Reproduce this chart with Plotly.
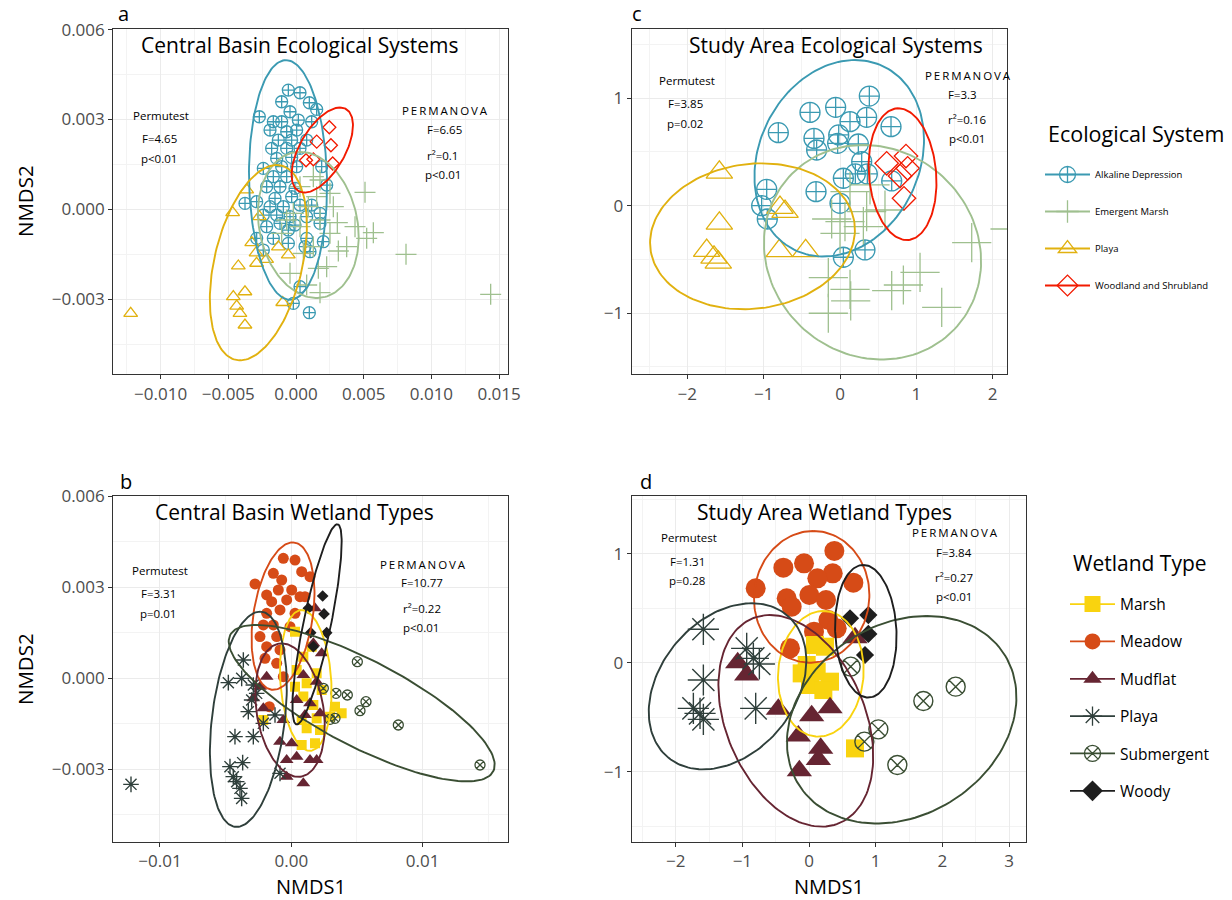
import numpy as np
import plotly.graph_objects as go

FONT = "Open Sans"
W, H = 1232, 900

# ---------------- colours ----------------
C_ALK, C_EM, C_PLA, C_WOO = "#3B9AB2", "#9FC08F", "#E1B10F", "#F21A00"
C_MARSH, C_MEAD, C_MUD, C_PLAYA, C_SUB, C_WOODY = "#F9D30F", "#D64B17", "#662532", "#2F3F3B", "#3A4E33", "#1E1E1E"

# ---------------- panel a: Central Basin Ecological Systems ----------------
a_alk_x = [-0.000566, 0.000295, -0.001059, 0.000985, 0.001526, -0.002708, -0.000443, -0.001674, -0.001059, 0.000172,
           0.001157, -0.001920, -0.000689, 0.000049, -0.001305, -0.000320, 0.000788, -0.001797, -0.000689, 0.000295,
           -0.001428, -0.000320, 0.001896, -0.001059, 0.000049, -0.002413, -0.001674, -0.000689, 0.002265, -0.002167,
           -0.001182, -0.000074, -0.001551, -0.000320, -0.003767, -0.002905, -0.001920, -0.000936, 0.000295, 0.001157,
           0.001773, -0.002413, -0.001428, -0.000443, 0.000788, -0.002167, -0.001182, -0.000074, 0.001773, -0.002905,
           -0.001674, -0.000566, 0.000788, 0.002019, -0.002413, 0.000665, -0.000566, 0.001034, 0.000295, -0.000197,
           0.000985]
a_alk_y = [0.003981, 0.003892, 0.003591, 0.003558, 0.003336, 0.003091, 0.003258, 0.002924, 0.002924, 0.002980,
           0.002924, 0.002647, 0.002591, 0.002647, 0.002313, 0.002313, 0.002313, 0.002035, 0.002035, 0.002035,
           0.001701, 0.001734, 0.001423, 0.001423, 0.001423, 0.001367, 0.001089, 0.001089, 0.000811, 0.000755,
           0.000755, 0.000700, 0.000366, 0.000422, 0.000199, 0.000255, 0.000088, 0.000088, 0.000143, 0.000143,
           -0.000135, -0.000190, -0.000190, -0.000246, -0.000246, -0.000579, -0.000468, -0.000524, -0.000468, -0.000968,
           -0.000968, -0.000691, -0.000968, -0.001080, -0.001358, -0.001247, -0.001136, -0.001413, -0.002582, -0.003138,
           -0.003449]
a_em_x = [0.008125, 0.014378, 0.005096, 0.005712, 0.004358, 0.005220, 0.003053, 0.003742, 0.003127, 0.001773,
          0.001650, -0.000443, 0.000788, 0.002511, 0.001280, 0.000295, 0.000911, 0.001773, 0.002511, 0.000295,
          -0.000689, 0.001280, 0.000542, -0.000197, 0.001526, 0.002757, 0.001773, -0.001059, 0.002265]
a_em_y = [-0.001502, -0.002836, 0.000567, -0.000779, -0.000578, -0.000968, -0.000445, -0.001246, -0.001390, -0.002781,
          -0.001969, -0.002136, -0.002525, 0.000534, 0.001090, 0.000756, 0.000089, -0.000356, -0.000801, -0.000578,
          -0.000356, -0.001246, -0.001468, -0.000133, 0.000423, 0.000089, 0.000979, -0.000801, -0.001913]
a_pla_x = [-0.01221, -0.00364, -0.00468, -0.00271, -0.00327, -0.00295, -0.00217, -0.00291, -0.00426, -0.00130,
           -0.00057, -0.00377, -0.00463, -0.00438, -0.00414, -0.00377, -0.00098]
a_pla_y = [-0.00347, 0.00065, -0.00011, -0.00024, -0.00111, -0.00145, -0.00167, -0.00180, -0.00189, -0.00125,
           -0.00152, -0.00275, -0.00291, -0.00323, -0.00347, -0.00386, -0.00311]
a_woo_x = [0.00246, 0.00153, 0.00258, 0.00128, 0.00271, 0.00074]
a_woo_y = [0.00274, 0.00226, 0.00214, 0.00167, 0.00153, 0.00164]
# ellipse: centre x, centre y, top-point x, top-point y, horizontal half-width
a_ell_alk = [-0.00059, 0.00098, -0.00074, 0.00498, 0.00288]
a_ell_em = [0.00091, -0.00052, 0.00030, 0.00192, 0.00367]
a_ell_pla = [-0.00278, -0.00178, -0.00143, 0.00148, 0.00332]
a_ell_woo = [0.00194, 0.00198, 0.00325, 0.00340, 0.00185]

# ---------------- panel c: Study Area Ecological Systems ----------------
c_alk_x = [0.384, -0.057, -0.393, 0.349, 0.131, -0.808, 0.668, -0.341, -0.017, 0.240, -0.306, -0.031, 0.284, 0.358,
           0.044, 0.201, 0.677, -0.960, -0.314, -1.026, 0.000, -0.952, 0.327, 0.044]
c_alk_y = [1.020, 0.915, 0.868, 0.822, 0.782, 0.679, 0.735, 0.626, 0.658, 0.574, 0.518, 0.580, 0.410, 0.295,
           0.255, 0.295, 0.230, 0.152, 0.130, 0.000, 0.022, -0.124, -0.412, -0.480]
c_em_x = [2.227, 1.725, -0.153, 0.131, -0.153, 0.140, 0.677, 0.830, 1.048, 1.332, 0.131, 0.349, -0.109, 0.065,
          0.306, 0.589, 0.000, 0.393]
c_em_y = [-0.217, -0.344, -0.669, -0.778, -1.001, -0.886, -0.791, -0.738, -0.620, -0.946, 0.130, -0.055, -0.124,
          -0.148, -0.195, -0.040, -0.257, 0.193]
c_pla_x = [-1.580, -1.580, -1.746, -1.650, -1.594, -0.786, -0.720, -0.795, -0.450]
c_pla_y = [0.310, -0.164, -0.418, -0.481, -0.527, -0.018, -0.055, -0.421, -0.421]
c_woo_x = [0.611, 0.864, 0.886, 0.786, 0.838]
c_woo_y = [0.394, 0.462, 0.348, 0.276, 0.069]
c_ell_alk = [-0.01, 0.441, 0.196, 1.355, 1.091]
c_ell_em = [0.426, -0.433, 0.305, 0.565, 1.417]
c_ell_pla = [-1.146, -0.285, -1.026, 0.394, 1.336]
c_ell_woo = [0.819, 0.293, 0.764, 0.906, 0.441]

# ---------------- panel b: Central Basin Wetland Types ----------------
b_marsh_x = [0.000282, 0.001551, 0.000916, 0.000409, 0.001931, 0.001170, 0.000282, 0.002312, 0.000916, 0.001678,
             0.003327, 0.003834, 0.002946, 0.001931, 0.000789, 0.002185, 0.001170, 0.001805, 0.000789, -0.002129]
b_marsh_y = [0.001537, 0.001043, 0.000713, 0.000274, 0.000164, -0.000165, -0.000275, -0.000385, -0.000604, -0.000879,
             -0.000934, -0.001154, -0.001264, -0.001319, -0.001374, -0.001703, -0.001648, -0.002143, -0.002198, -0.001374]
b_mead_x = [0.000282, -0.000607, -0.002764, 0.000789, 0.001424, -0.001368, -0.000733, 0.000028, -0.000987, -0.001876,
            0.000662, -0.001495, -0.000353, 0.001043, -0.001876, -0.000861, 0.000282, -0.002129, -0.001368, -0.000099,
            -0.002383, -0.001114, -0.001876, -0.000861, -0.002002, -0.001114, -0.000607, -0.001673]
b_mead_y = [0.003899, 0.003954, 0.003110, 0.003516, 0.003351, 0.003461, 0.003241, 0.002911, 0.002911, 0.002747,
            0.002692, 0.002527, 0.002582, 0.002692, 0.002143, 0.002253, 0.002143, 0.001758, 0.001758, 0.001703,
            0.001374, 0.001374, 0.001044, 0.000934, 0.000659, 0.000494, 0.000054, -0.000934]
b_mud_x = [0.001805, 0.002312, 0.001678, 0.000916, 0.001931, -0.001876, -0.002383, -0.002891, -0.002129, 0.000409,
           0.001424, 0.001043, 0.002185, -0.000607, -0.000861, 0.000028, 0.000409, -0.000353, 0.001424, 0.001931,
           -0.000353, 0.000916]
b_mud_y = [0.002307, 0.000824, 0.001154, 0.000109, -0.000110, 0.000054, -0.000275, -0.000659, -0.000989, -0.000714,
           -0.000824, -0.001209, -0.001154, -0.001374, -0.002088, -0.002143, -0.002583, -0.002693, -0.002693, -0.002693,
           -0.003242, -0.003462]
b_playa_x = [-0.012205, -0.003652, -0.004794, -0.003779, -0.002891, -0.002637, -0.003272, -0.002129, -0.004289,
             -0.002891, -0.004670, -0.003704, -0.004416, -0.004162, -0.003908, -0.003780, -0.001241, -0.000860, -0.003018]
b_playa_y = [-0.003496, 0.000603, -0.000144, -0.000001, -0.000221, -0.000496, -0.001100, -0.001485, -0.001924,
             -0.001924, -0.002913, -0.002781, -0.003243, -0.003408, -0.003628, -0.003958, -0.001209, -0.003133, -0.000714]
b_sub_x = [0.005028, 0.003403, 0.004266, 0.005687, 0.005230, 0.008148, 0.014368, 0.002947, 0.003327, 0.002439]
b_sub_y = [0.000548, -0.000496, -0.000550, -0.000770, -0.001067, -0.001539, -0.002858, -0.001352, -0.001319, -0.000330]
b_woody_x = [0.002388, 0.002490, 0.002693, 0.001475, 0.001297, 0.001678]
b_woody_y = [0.002714, 0.002121, 0.001505, 0.001505, 0.002308, 0.001043]
b_ell_marsh = [0.00110, -0.00007, 0.00079, 0.00225, 0.00194]
b_ell_mead = [-0.00063, 0.00205, 0.00011, 0.00448, 0.00228]
b_ell_mud = [-0.00010, -0.00105, -0.00073, 0.00115, 0.00257]
b_ell_playa = [-0.00327, -0.00135, -0.00238, 0.00220, 0.00279]
b_ell_sub = [0.00536, -0.00082, -0.00263, 0.00176, 0.00622]
b_ell_woody = [0.00196, 0.00178, 0.00350, 0.00508, 0.00107]

# ---------------- panel d: Study Area Wetland Types ----------------
d_marsh_x = [0.090, 0.240, -0.110, 0.115, 0.315, 0.015, 0.215, 0.690, -0.035]
d_marsh_y = [0.163, 0.147, -0.098, -0.082, -0.174, -0.205, -0.251, -0.787, -0.021]
d_mead_x = [0.380, -0.385, -0.075, 0.355, 0.125, 0.665, -0.800, -0.335, 0.005, 0.255, -0.260, 0.290, 0.075, -0.285, 0.415]
d_mead_y = [1.027, 0.873, 0.913, 0.821, 0.775, 0.735, 0.683, 0.591, 0.622, 0.576, 0.515, 0.392, 0.285, 0.132, 0.316]
d_mud_x = [-1.070, -0.935, 0.690, -0.460, 0.040, 0.315, -0.160, 0.175, 0.140, -0.145]
d_mud_y = [0.000, -0.113, 0.230, -0.428, -0.487, -0.413, -0.673, -0.786, -0.888, -0.992]
d_playa_x = [-1.585, -1.585, -1.735, -1.635, -1.585, -0.935, -0.745, -0.835, -0.800]
d_playa_y = [0.307, -0.159, -0.419, -0.465, -0.520, 0.132, -0.012, 0.040, -0.419]
d_sub_x = [0.625, 2.200, 1.715, 1.040, 0.830, 1.325]
d_sub_y = [-0.036, -0.220, -0.352, -0.612, -0.725, -0.940]
d_woody_x = [0.615, 0.890, 0.890, 0.840]
d_woody_y = [0.408, 0.438, 0.264, 0.071]
d_ell_marsh = [0.177, -0.102, 0.214, 0.475, 0.642]
d_ell_mead = [0.040, 0.605, 0.064, 1.210, 0.865]
d_ell_mud = [-0.198, -0.534, -0.585, 0.438, 1.095]
d_ell_playa = [-1.222, -0.217, -0.859, 0.546, 1.125]
d_ell_sub = [1.390, -0.524, 1.765, 0.429, 1.680]
d_ell_woody = [0.852, 0.289, 0.814, 0.898, 0.460]

eco_names = ["Alkaline Depression", "Emergent Marsh", "Playa", "Woodland and Shrubland"]
wet_names = ["Marsh", "Meadow", "Mudflat", "Playa", "Submergent", "Woody"]

fig = go.Figure()


def ellipse(p, n=160):
    cx, cy, tx, ty, w = p
    t = np.linspace(0, 2 * np.pi, n)
    return cx + (tx - cx) * np.cos(t) + w * np.sin(t), cy + (ty - cy) * np.cos(t)


def pts(x, y, sym, color, size, ax, lw=1.3):
    fig.add_trace(go.Scatter(x=x, y=y, mode="markers", xaxis="x" + ax, yaxis="y" + ax,
                             marker=dict(symbol=sym, color=color, size=size, line=dict(color=color, width=lw)),
                             showlegend=False, hoverinfo="skip"))


def ell(p, color, ax, lw=1.9):
    ex, ey = ellipse(p)
    fig.add_trace(go.Scatter(x=ex, y=ey, mode="lines", xaxis="x" + ax, yaxis="y" + ax,
                             line=dict(color=color, width=lw), showlegend=False, hoverinfo="skip"))


# panel a
pts(a_alk_x, a_alk_y, "circle-cross-open", C_ALK, 12, "")
pts(a_em_x, a_em_y, "cross-thin-open", C_EM, 15, "")
pts(a_pla_x, a_pla_y, "triangle-up-open", C_PLA, 12, "")
pts(a_woo_x, a_woo_y, "diamond-open", C_WOO, 10, "")
for p, c in [(a_ell_alk, C_ALK), (a_ell_em, C_EM), (a_ell_pla, C_PLA), (a_ell_woo, C_WOO)]:
    ell(p, c, "")

# panel c
pts(c_alk_x, c_alk_y, "circle-cross-open", C_ALK, 20, "2")
pts(c_em_x, c_em_y, "cross-thin-open", C_EM, 28, "2")
pts(c_pla_x, c_pla_y, "triangle-up-open", C_PLA, 23, "2")
pts(c_woo_x, c_woo_y, "diamond-open", C_WOO, 18, "2")
for p, c in [(c_ell_alk, C_ALK), (c_ell_em, C_EM), (c_ell_pla, C_PLA), (c_ell_woo, C_WOO)]:
    ell(p, c, "2")

# panel b
pts(b_mead_x, b_mead_y, "circle", C_MEAD, 11, "3", 0)
pts(b_marsh_x, b_marsh_y, "square", C_MARSH, 10, "3", 0)
pts(b_mud_x, b_mud_y, "triangle-up", C_MUD, 12, "3", 0)
pts(b_playa_x, b_playa_y, "asterisk-open", C_PLAYA, 13, "3", 1.4)
pts(b_sub_x, b_sub_y, "circle-x-open", C_SUB, 10, "3", 1.3)
pts(b_woody_x, b_woody_y, "diamond", C_WOODY, 9, "3", 0)
for p, c in [(b_ell_marsh, C_MARSH), (b_ell_mead, C_MEAD), (b_ell_mud, C_MUD), (b_ell_playa, C_PLAYA),
             (b_ell_sub, C_SUB), (b_ell_woody, C_WOODY)]:
    ell(p, c, "3")

# panel d
pts(d_mead_x, d_mead_y, "circle", C_MEAD, 20, "4", 0)
pts(d_marsh_x, d_marsh_y, "square", C_MARSH, 18, "4", 0)
pts(d_mud_x, d_mud_y, "triangle-up", C_MUD, 22, "4", 0)
pts(d_playa_x, d_playa_y, "asterisk-open", C_PLAYA, 26, "4", 1.4)
pts(d_sub_x, d_sub_y, "circle-x-open", C_SUB, 19, "4", 1.4)
pts(d_woody_x, d_woody_y, "diamond", C_WOODY, 14, "4", 0)
for p, c in [(d_ell_marsh, C_MARSH), (d_ell_mead, C_MEAD), (d_ell_mud, C_MUD), (d_ell_playa, C_PLAYA),
             (d_ell_sub, C_SUB), (d_ell_woody, C_WOODY)]:
    ell(p, c, "4")

# legend entries
eco_sym = [("circle-cross-open", C_ALK), ("cross-thin-open", C_EM), ("triangle-up-open", C_PLA), ("diamond-open", C_WOO)]
for name, (s, c) in zip(eco_names, eco_sym):
    fig.add_trace(go.Scatter(x=[None], y=[None], mode="lines+markers", name=name, legend="legend",
                             legendgroup="e" + name, marker=dict(symbol=s, color=c, size=16, line=dict(color=c, width=1.3)),
                             line=dict(color=c, width=1.8)))
wet_sym = [("square", C_MARSH), ("circle", C_MEAD), ("triangle-up", C_MUD), ("asterisk-open", C_PLAYA),
           ("circle-x-open", C_SUB), ("diamond", C_WOODY)]
for name, (s, c) in zip(wet_names, wet_sym):
    lw = 1.3 if "open" in s else 0
    fig.add_trace(go.Scatter(x=[None], y=[None], mode="lines+markers", name=name, legend="legend2",
                             legendgroup="w" + name, marker=dict(symbol=s, color=c, size=16, line=dict(color=c, width=lw)),
                             line=dict(color=c, width=1.8)))


def axis(dom, rng, dtick, mdtick, fmt, anchor):
    return dict(domain=dom, range=rng, anchor=anchor, dtick=dtick, tick0=0, tickformat=fmt,
                showline=True, linecolor="#333333", linewidth=1.2, mirror=True,
                ticks="outside", ticklen=4, tickcolor="#333333", tickwidth=1.2,
                showgrid=True, gridcolor="#EBEBEB", gridwidth=1.1, zeroline=False,
                tickfont=dict(family=FONT, size=17, color="#4D4D4D"), automargin=False,
                minor=dict(dtick=mdtick, tick0=0, showgrid=True, gridcolor="#F3F3F3", gridwidth=0.6, ticks=""))


def xd(a, b):
    return [a / W, b / W]


def yd(top, bot):
    return [1 - bot / H, 1 - top / H]


fig.update_layout(
    width=W, height=H, margin=dict(l=0, r=0, t=0, b=0), plot_bgcolor="white", paper_bgcolor="white",
    font=dict(family=FONT, color="black"),
    xaxis=axis(xd(113.3, 508.3), [-0.013494, 0.015680], 0.005, 0.0025, ".3f", "y"),
    yaxis=axis(yd(29.3, 374), [-0.005496, 0.006010], 0.003, 0.0015, ".3f", "x"),
    xaxis2=axis(xd(631.7, 1007), [-2.728, 2.187], 1, 0.5, "d", "y2"),
    yaxis2=axis(yd(29.3, 374), [-1.566, 1.641], 1, 0.5, "d", "x2"),
    xaxis3=axis(xd(113.3, 508.3), [-0.013553, 0.016522], 0.01, 0.005, ".2f", "y3"),
    yaxis3=axis(yd(495.7, 841.7), [-0.005387, 0.006020], 0.003, 0.0015, ".3f", "x3"),
    xaxis4=axis(xd(631.7, 1026), [-2.660, 3.255], 1, 0.5, "d", "y4"),
    yaxis4=axis(yd(495.7, 841.7), [-1.644, 1.534], 1, 0.5, "d", "x4"),
    legend=dict(x=1040 / W, y=1 - 160 / H, xanchor="left", yanchor="top", bgcolor="rgba(0,0,0,0)",
                font=dict(family=FONT, size=9.5), tracegroupgap=18, itemwidth=45, itemsizing="trace"),
    legend2=dict(x=1065 / W, y=1 - 587.5 / H, xanchor="left", yanchor="top", bgcolor="rgba(0,0,0,0)",
                 font=dict(family=FONT, size=15.5), tracegroupgap=14.2, itemwidth=45, itemsizing="trace"),
)

ann = []


def text(s, x, y, size, color="black", angle=0, xanchor="center"):
    ann.append(dict(text=s, x=x / W, y=1 - y / H, xref="paper", yref="paper", showarrow=False,
                    xanchor=xanchor, yanchor="middle", textangle=angle,
                    font=dict(family=FONT, size=size, color=color)))


# panel titles and letters
text("Central Basin Ecological Systems", 300, 45, 21)
text("Study Area Ecological Systems", 836, 45, 21)
text("Central Basin Wetland Types", 294, 512, 21)
text("Study Area Wetland Types", 825, 512, 21)
text("a", 123, 13, 20)
text("c", 637, 13, 20)
text("b", 126, 481, 20)
text("d", 646, 481, 20)
text("NMDS2", 25, 201, 20.5, angle=-90)
text("NMDS2", 25, 669, 20.5, angle=-90)
text("NMDS1", 311, 886, 20)
text("NMDS1", 829, 886, 20)
text("Ecological System", 1046, 133, 21.5, xanchor="left")
text("Wetland Type", 1071, 563, 21, xanchor="left")

# statistics
TS = "\u2009"
PERM = TS.join("PERMANOVA")
stats = [
    (161, 116, "Permutest"), (159, 138, "F=4.65"), (159, 158, "p<0.01"),
    (445, 111, PERM), (444, 130, "F=6.65"), (443, 155, "r²=0.1"), (443, 174, "p<0.01"),
    (687, 81, "Permutest"), (685, 104, "F=3.85"), (685, 123, "p=0.02"),
    (968, 76, PERM), (963, 95, "F=3.3"), (967, 120, "r²=0.16"), (967, 139, "p<0.01"),
    (160, 570, "Permutest"), (158, 593, "F=3.31"), (158, 613, "p=0.01"),
    (423, 564, PERM), (422, 582, "F=10.77"), (422, 608, "r²=0.22"), (421, 627, "p<0.01"),
    (689, 537, "Permutest"), (687, 561, "F=1.31"), (687, 580, "p=0.28"),
    (955, 532, PERM), (954, 552, "F=3.84"), (954, 577, "r²=0.27"), (954, 596, "p<0.01"),
]
for x, y, s in stats:
    text(s, x, y, 11.5)

fig.update_layout(annotations=ann)
fig.write_html("out.html", config={"displayModeBar": False},
               post_script="document.body.style.margin='0px';")
